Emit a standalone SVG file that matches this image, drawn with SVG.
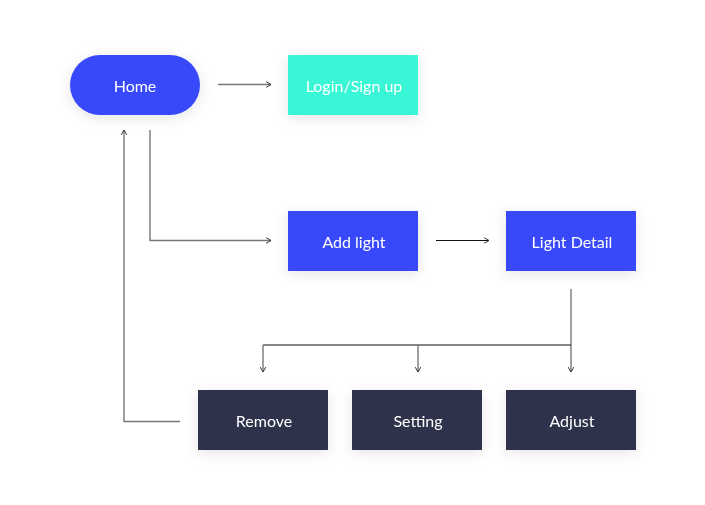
<svg xmlns="http://www.w3.org/2000/svg" width="705" height="505" viewBox="0 0 705 505">
<defs>
<filter id="sh" x="-30%" y="-40%" width="160%" height="180%">
<feDropShadow dx="0" dy="3" stdDeviation="7" flood-color="#000" flood-opacity="0.10"/>
</filter>
<marker id="ah" viewBox="0 0 10 10" refX="9" refY="5" markerWidth="7" markerHeight="7" markerUnits="userSpaceOnUse" orient="auto">
<path d="M2,1 L9,5 L2,9" fill="none" stroke="#333" stroke-width="1.4"/>
</marker>
</defs>
<style>
.lbl{font-family:Lato,"Open Sans",sans-serif;font-size:16px;fill:#fff;text-anchor:middle;dominant-baseline:central}
.blue{fill:#374AFB}
.teal{fill:#39F6D6}
.navy{fill:#2D334B}
.c{fill:none;stroke:#777;stroke-width:1.4}
.k{fill:none;stroke:#111;stroke-width:1.2}
</style>
<rect width="705" height="505" fill="#fff"/>
<g id="connectors">
<line class="c" x1="218" y1="84.5" x2="271" y2="84.5" marker-end="url(#ah)"/>
<polyline class="c" points="150,130 150,240.5 271,240.5" marker-end="url(#ah)"/>
<line class="k" x1="436" y1="240.5" x2="489" y2="240.5" marker-end="url(#ah)"/>
<line class="c" x1="571" y1="289" x2="571" y2="372" marker-end="url(#ah)"/>
<polyline class="k" points="571,345 263,345"/>
<line class="c" x1="263" y1="345" x2="263" y2="372" marker-end="url(#ah)"/>
<line class="c" x1="418" y1="345" x2="418" y2="372" marker-end="url(#ah)"/>
<polyline class="c" points="180,421.5 124,421.5 124,130" marker-end="url(#ah)"/>
</g>
<g id="home" filter="url(#sh)"><rect class="blue" x="70" y="55" width="130" height="60" rx="30"/><text class="lbl" x="135" y="85">Home</text></g>
<g id="login" filter="url(#sh)"><rect class="teal" x="288" y="55" width="130" height="60"/><text class="lbl" x="354" y="85">Login/Sign up</text></g>
<g id="addlight" filter="url(#sh)"><rect class="blue" x="288" y="211" width="130" height="60"/><text class="lbl" x="354" y="241">Add light</text></g>
<g id="lightdetail" filter="url(#sh)"><rect class="blue" x="506" y="211" width="130" height="60"/><text class="lbl" x="572" y="241">Light Detail</text></g>
<g id="remove" filter="url(#sh)"><rect class="navy" x="198" y="390" width="130" height="60"/><text class="lbl" x="264" y="420">Remove</text></g>
<g id="setting" filter="url(#sh)"><rect class="navy" x="352" y="390" width="130" height="60"/><text class="lbl" x="418" y="420">Setting</text></g>
<g id="adjust" filter="url(#sh)"><rect class="navy" x="506" y="390" width="130" height="60"/><text class="lbl" x="572" y="420">Adjust</text></g>
</svg>
